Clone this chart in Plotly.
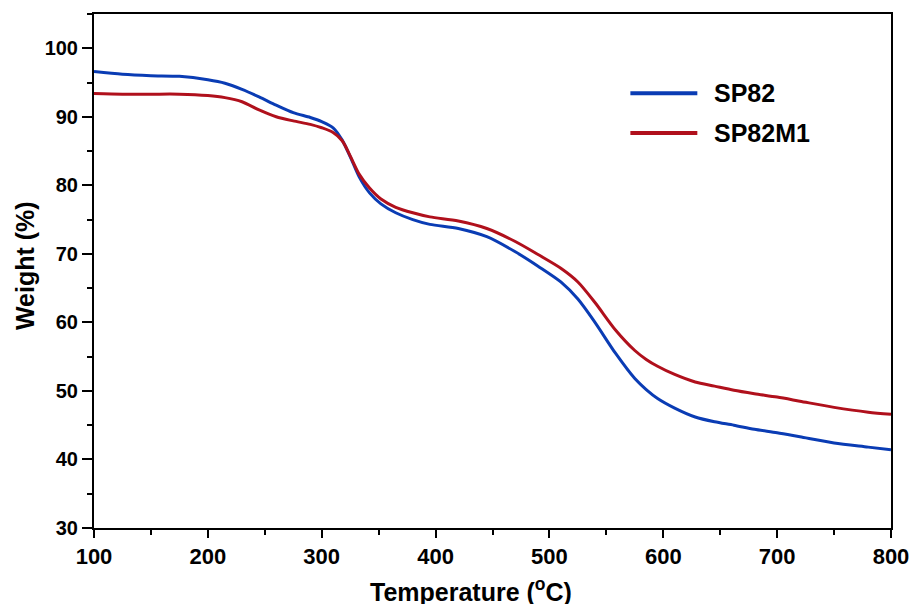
import plotly.graph_objects as go

temperature = [100, 125, 150, 175, 200, 215, 230, 245, 260, 275, 290, 300, 310, 318, 325,
               333, 342, 352, 365, 380, 395, 420, 445, 470, 490, 510, 525, 540, 558, 575,
               585, 595, 610, 628, 645, 662, 680, 700, 720, 750, 780, 800]

sp82 = [96.6, 96.2, 96.0, 95.9, 95.4, 94.9, 94.0, 92.9, 91.7, 90.6, 89.9, 89.3, 88.4, 86.6, 84.2,
        81.2, 78.9, 77.3, 76.0, 75.0, 74.3, 73.7, 72.5, 70.3, 68.2, 65.9, 63.4, 60.0, 55.5, 51.8,
        50.2, 48.9, 47.5, 46.2, 45.5, 45.0, 44.4, 43.9, 43.3, 42.4, 41.8, 41.4]

sp82m1 = [93.4, 93.3, 93.3, 93.3, 93.1, 92.8, 92.2, 91.0, 90.0, 89.4, 88.9, 88.4, 87.7, 86.5, 84.3,
          81.6, 79.6, 78.0, 76.8, 76.0, 75.4, 74.8, 73.7, 71.8, 69.9, 67.9, 65.9, 62.9, 58.9, 55.9,
          54.6, 53.6, 52.4, 51.3, 50.7, 50.1, 49.6, 49.1, 48.5, 47.6, 46.9, 46.6]

series_names = ["SP82", "SP82M1"]
colors = ["#0a3cb4", "#b0101c"]

FONT = "Liberation Sans, Arial, sans-serif"

fig = go.Figure()
for name, vals, col in zip(series_names, [sp82, sp82m1], colors):
    fig.add_trace(go.Scatter(x=temperature, y=vals, mode="lines", name=name,
                             line=dict(color=col, width=3, shape="spline", smoothing=0.8),
                             showlegend=False))

# legend drawn manually to match the long line samples
leg_y = [0.846, 0.7685]
for name, col, yy in zip(series_names, colors, leg_y):
    fig.add_shape(type="line", xref="paper", yref="paper", x0=0.673, x1=0.757, y0=yy, y1=yy,
                  line=dict(color=col, width=4))
    fig.add_annotation(xref="paper", yref="paper", x=0.776, y=yy, text=name, showarrow=False,
                       xanchor="left", yanchor="middle",
                       font=dict(family=FONT, size=25, color="black", weight="bold"))

# axis titles
fig.add_annotation(xref="paper", yref="paper", x=0.4726, y=-0.1206, showarrow=False,
                   text="Temperature (<sup>o</sup>C)", xanchor="center", yanchor="middle",
                   font=dict(family=FONT, size=25, color="black", weight="bold"))
fig.add_annotation(xref="paper", yref="paper", x=-0.0871, y=0.5107, showarrow=False,
                   text="Weight (%)", textangle=-90, xanchor="center", yanchor="middle",
                   font=dict(family=FONT, size=25, color="black", weight="bold"))

fig.update_xaxes(range=[100, 800], tickvals=[100, 200, 300, 400, 500, 600, 700, 800],
                 ticks="outside", ticklen=8, tickwidth=2, tickcolor="black",
                 minor=dict(dtick=50, ticks="outside", ticklen=5, tickwidth=2, tickcolor="black"),
                 showline=True, linewidth=2, linecolor="black", mirror=True,
                 showgrid=False, zeroline=False,
                 tickfont=dict(family=FONT, size=22, color="black", weight="bold"))
fig.update_yaxes(range=[30, 105], tickvals=[30, 40, 50, 60, 70, 80, 90, 100],
                 ticks="outside", ticklen=10, tickwidth=2, tickcolor="black",
                 minor=dict(dtick=5, ticks="outside", ticklen=5, tickwidth=2, tickcolor="black"),
                 showline=True, linewidth=2, linecolor="black", mirror=True,
                 showgrid=False, zeroline=False,
                 tickfont=dict(family=FONT, size=20, color="black", weight="bold"))

fig.update_layout(width=921, height=604, autosize=False,
                  margin=dict(l=94, r=23, t=14, b=76),
                  plot_bgcolor="white", paper_bgcolor="white")

fig.write_html("out.html",
               config={"displayModeBar": False, "responsive": False},
               post_script="document.body.style.margin='0';document.body.style.overflow='hidden';")
